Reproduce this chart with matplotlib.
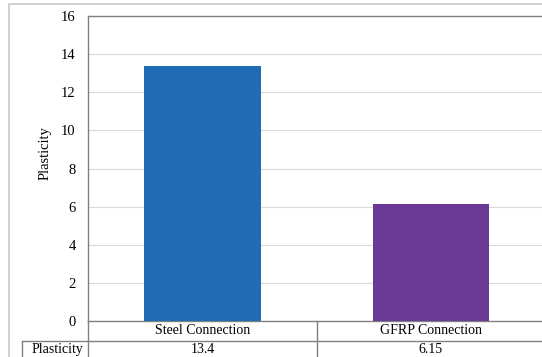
import matplotlib.pyplot as plt
from matplotlib.lines import Line2D
from matplotlib.patches import Rectangle
from matplotlib.transforms import blended_transform_factory

categories = ["Steel Connection", "GFRP Connection"]
plasticity = [13.4, 6.15]
row_label = "Plasticity"
bar_colors = ["#1f6bb4", "#6b3a97"]
y_ticks = [0, 2, 4, 6, 8, 10, 12, 14, 16]

plt.rcParams["font.family"] = "Liberation Serif"
plt.rcParams["font.size"] = 10

W, H = 542, 357
fig = plt.figure(figsize=(W / 100, H / 100), dpi=100)

# axes placed in pixel units, right side is cropped as in the original
left, right, top, bottom = 88.3, 545.0, 16.0, 321.0
ax = fig.add_axes([left / W, 1 - bottom / H, (right - left) / W, (bottom - top) / H])

x = [i + 0.5 for i in range(len(categories))]
ax.bar(x, plasticity, width=0.51, color=bar_colors, zorder=3)
ax.set_xlim(0, len(categories))
ax.set_ylim(0, 16)
ax.set_yticks(y_ticks)
ax.tick_params(axis="y", length=0, pad=9, labelsize=10.5)
ax.set_xticks([])
ax.grid(axis="y", color="#d9d9d9", linewidth=0.8, zorder=0)
for s in ["left", "bottom", "top"]:
    ax.spines[s].set_color("#808080")
    ax.spines[s].set_linewidth(1)
ax.spines["right"].set_visible(False)

fig.text(45 / W, 1 - 153 / H, "Plasticity", rotation=90, ha="center", va="center", fontsize=10.5)

# data table under the axis
ax_h = bottom - top
ax_w = right - left
def ya(px):
    return (bottom - px) / ax_h
def xa(px):
    return (px - left) / ax_w

tr = ax.transAxes
lc = "#808080"
lines = [
    ([xa(22), 1], [ya(341), ya(341)]),
    ([0, 0], [0, ya(362)]),
    ([xa(22), xa(22)], [ya(341), ya(362)]),
]
for i in range(1, len(categories)):
    xi = i / len(categories)
    lines.append(([xi, xi], [0, ya(362)]))
for xs, ys in lines:
    ax.add_line(Line2D(xs, ys, transform=tr, color=lc, linewidth=1, clip_on=False))

btr = blended_transform_factory(ax.transData, ax.transAxes)
for xi, cat, val in zip(x, categories, plasticity):
    ax.text(xi, ya(331), cat, transform=btr, ha="center", va="center", fontsize=10)
    ax.text(xi, ya(349.5), str(val), transform=btr, ha="center", va="center", fontsize=10)
ax.text(xa(83), ya(349.5), row_label, transform=tr, ha="right", va="center", fontsize=10)

# outer chart border
fig.add_artist(Rectangle((9 / W, -0.1), 1.0, 1 - 4 / H + 0.1, transform=fig.transFigure,
                         fill=False, edgecolor="#c8c8c8", linewidth=1.2))

fig.savefig("out.png", dpi=100)
